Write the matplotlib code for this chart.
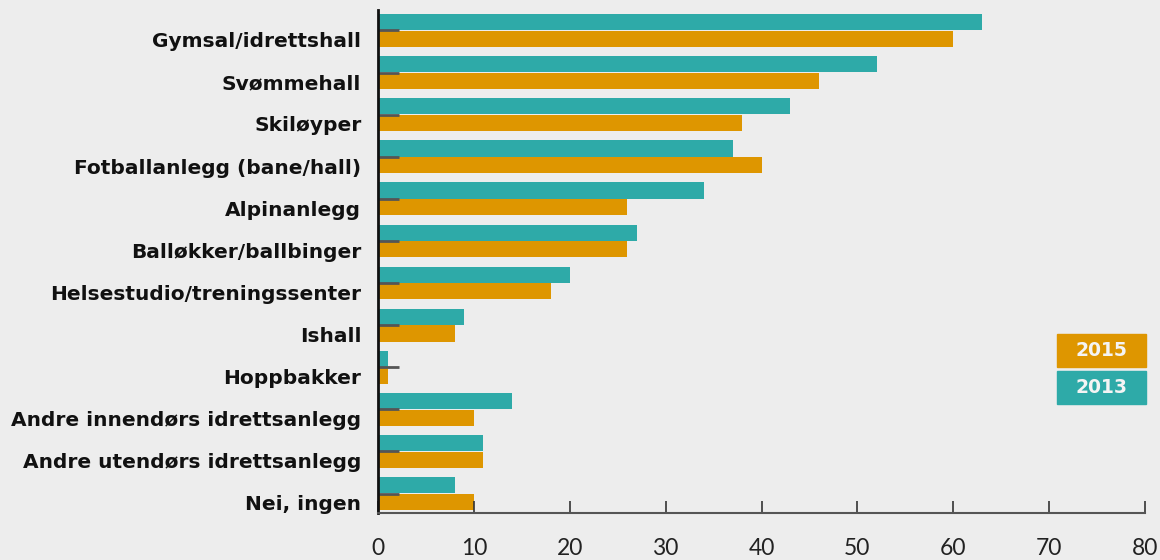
import matplotlib
matplotlib.use("Agg")
import matplotlib.pyplot as plt
from matplotlib.patches import Rectangle
import numpy as np

categories = ["Gymsal/idrettshall", "Svømmehall", "Skiløyper", "Fotballanlegg (bane/hall)",
              "Alpinanlegg", "Balløkker/ballbinger", "Helsestudio/treningssenter", "Ishall",
              "Hoppbakker", "Andre innendørs idrettsanlegg", "Andre utendørs idrettsanlegg",
              "Nei, ingen"]
values_2013 = [63, 52, 43, 37, 34, 27, 20, 9, 1, 14, 11, 8]
values_2015 = [60, 46, 38, 40, 26, 26, 18, 8, 1, 10, 11, 10]
xticks = [0, 10, 20, 30, 40, 50, 60, 70, 80]

TEAL = "#2eaaa8"
ORANGE = "#de9600"
BG = "#ededed"

plt.rcParams['font.family'] = ['DejaVu Sans']

fig = plt.figure(figsize=(11.6, 5.6), dpi=100, facecolor=BG)
ax = fig.add_axes([378/1160, 1-513/560, (1145-378)/1160, (513-10)/560])
ax.set_facecolor(BG)

y = np.arange(len(categories))
h = 0.385
ax.barh(y - 0.198, values_2013, height=h, color=TEAL, linewidth=0, zorder=1)
ax.barh(y + 0.198, values_2015, height=h, color=ORANGE, linewidth=0, zorder=1)

ax.set_xlim(0, 80)
ax.set_ylim(len(categories) - 1 + 0.463, -0.487)

ax.set_xticks(xticks)
ax.set_xticklabels([str(t) for t in xticks], fontsize=16.5, family=['Lato', 'DejaVu Sans'],
                   fontweight='normal', color='#222222')
ax.tick_params(axis='x', direction='in', length=9, width=1.2, color='#333333', pad=18)

ax.set_yticks(y)
ax.set_yticklabels([])
ax.tick_params(axis='y', which='major', direction='in', length=15, width=2, color='#555555')
ax.set_yticks(y + 0.22, minor=True)
ax.set_yticklabels(categories, minor=True, fontsize=14.5, fontweight='bold', color='#111111')
ax.tick_params(axis='y', which='minor', length=0, pad=12)

for s in ['top', 'right']:
    ax.spines[s].set_visible(False)
ax.spines['left'].set_color('#111111')
ax.spines['left'].set_linewidth(2)
ax.spines['bottom'].set_color('#555555')
ax.spines['bottom'].set_linewidth(1.5)

# legend boxes
W, H = 1160, 560
for (label, col, top) in [("2015", ORANGE, 334), ("2013", TEAL, 371)]:
    x0, x1 = 1057, 1146
    y0, y1 = top, top + 33
    fig.patches.append(Rectangle((x0/W, 1-y1/H), (x1-x0)/W, (y1-y0)/H,
                                 transform=fig.transFigure, color=col, zorder=5))
    fig.text((x0+x1)/2/W, 1-(y0+y1)/2/H, label, ha='center', va='center',
             color='#f4f4f4', fontsize=13.5, fontweight='bold', zorder=6)

fig.savefig("out.png", dpi=100, facecolor=BG)
